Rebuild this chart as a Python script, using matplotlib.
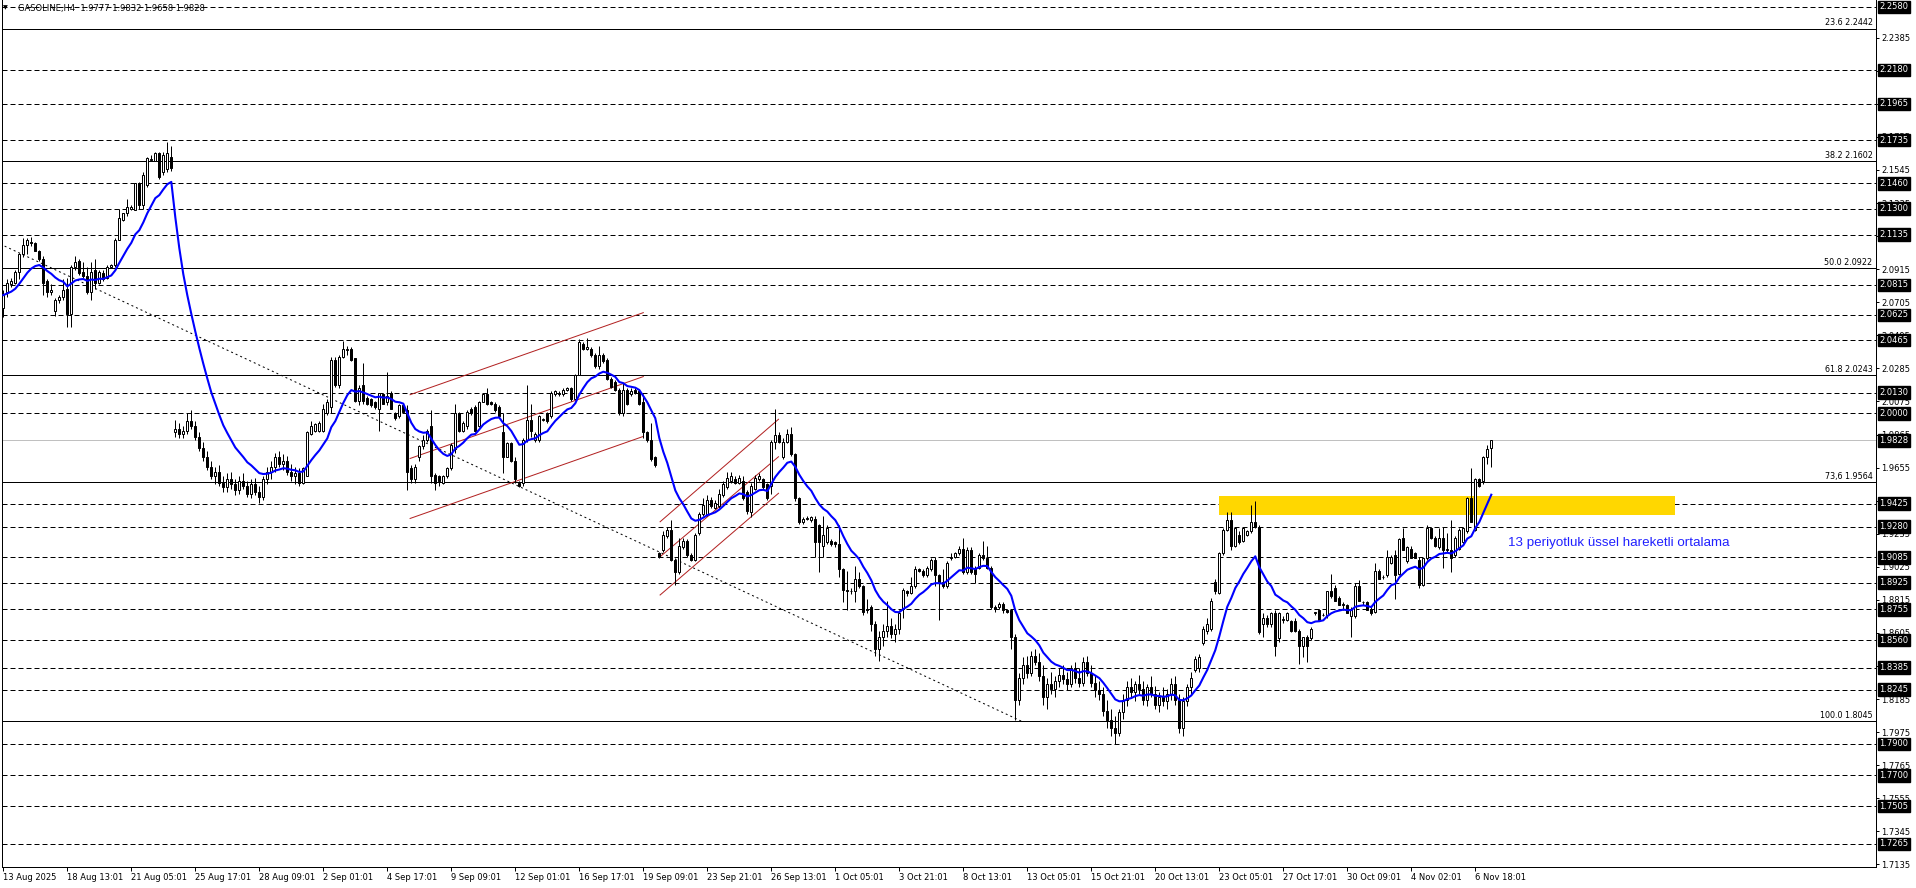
import numpy as np
import pandas as pd
import matplotlib
matplotlib.use("Agg")
import matplotlib.pyplot as plt
from matplotlib.patches import Rectangle

# ---------------- data (H4 candles) ----------------
open_ = [
    2.067, 2.077, 2.082, 2.083, 2.090, 2.101, 2.107, 2.109, 2.108, 2.103,
    2.098, 2.084, 2.077, 2.065, 2.072, 2.074, 2.079, 2.063, 2.093, 2.097,
    2.090, 2.087, 2.077, 2.091, 2.083, 2.089, 2.086, 2.093, 2.094, 2.110,
    2.123, 2.127, 2.130, 2.129, 2.146, 2.132, 2.145, 2.161, 2.160, 2.165,
    2.153, 2.155, 2.163, 1.988, 1.990, 1.987, 1.989, 1.995, 1.992, 1.985,
    1.978, 1.972, 1.966, 1.960, 1.963, 1.956, 1.953, 1.958, 1.955, 1.951,
    1.957, 1.954, 1.949, 1.955, 1.950, 1.947, 1.958, 1.963, 1.966, 1.972,
    1.968, 1.970, 1.963, 1.960, 1.962, 1.956, 1.960, 1.987, 1.989, 1.989,
    1.989, 2.000, 2.004, 2.034, 2.018, 2.036, 2.040, 2.041, 2.035, 2.008,
    2.018, 2.010, 2.009, 2.007, 2.003, 2.012, 2.007, 2.013, 2.000, 1.998,
    2.005, 2.002, 1.965, 1.958, 1.972, 1.979, 1.983, 1.992, 1.961, 1.960,
    1.956, 1.960, 1.965, 1.977, 2.000, 1.989, 1.992, 2.003, 2.004, 1.992,
    2.007, 2.012, 2.007, 2.006, 2.004, 1.988, 1.972, 1.981, 1.970, 1.956,
    1.956, 1.983, 1.996, 1.983, 1.983, 1.996, 2.000, 1.998, 2.012, 2.012,
    2.012, 2.015, 2.016, 2.009, 2.024, 2.044, 2.041, 2.041, 2.037, 2.030,
    2.037, 2.034, 2.022, 2.020, 2.015, 2.000, 2.015, 2.012, 2.015, 2.014,
    2.007, 1.988, 1.983, 1.972, 1.911, 1.913, 1.922, 1.926, 1.907, 1.899,
    1.915, 1.919, 1.910, 1.907, 1.924, 1.936, 1.936, 1.945, 1.940, 1.941,
    1.948, 1.953, 1.957, 1.958, 1.956, 1.957, 1.950, 1.937, 1.952, 1.958,
    1.958, 1.955, 1.954, 1.982, 1.986, 1.972, 1.982, 1.987, 1.974, 1.946,
    1.931, 1.933, 1.932, 1.933, 1.929, 1.916, 1.918, 1.919, 1.918, 1.917,
    1.901, 1.888, 1.887, 1.887, 1.895, 1.890, 1.876, 1.877, 1.866, 1.850,
    1.858, 1.862, 1.865, 1.860, 1.863, 1.876, 1.887, 1.886, 1.890, 1.901,
    1.900, 1.897, 1.901, 1.907, 1.897, 1.893, 1.890, 1.908, 1.909, 1.911,
    1.914, 1.899, 1.913, 1.902, 1.902, 1.910, 1.908, 1.902, 1.877, 1.877,
    1.879, 1.875, 1.875, 1.858, 1.818, 1.832, 1.840, 1.835, 1.846, 1.842,
    1.833, 1.820, 1.828, 1.825, 1.830, 1.834, 1.831, 1.828, 1.838, 1.832,
    1.829, 1.842, 1.835, 1.829, 1.824, 1.822, 1.811, 1.805, 1.800, 1.797,
    1.810, 1.818, 1.826, 1.823, 1.828, 1.825, 1.818, 1.826, 1.822, 1.815,
    1.820, 1.817, 1.822, 1.828, 1.818, 1.800, 1.817, 1.826, 1.837, 1.838,
    1.854, 1.862, 1.863, 1.893, 1.886, 1.911, 1.926, 1.932, 1.916, 1.923,
    1.919, 1.923, 1.925, 1.931, 1.928, 1.866, 1.870, 1.866, 1.873, 1.857,
    1.869, 1.869, 1.868, 1.868, 1.862, 1.852, 1.858, 1.857, 1.873, 1.875,
    1.872, 1.872, 1.887, 1.889, 1.883, 1.878, 1.878, 1.871, 1.871, 1.890,
    1.880, 1.880, 1.876, 1.874, 1.900, 1.896, 1.897, 1.905, 1.910, 1.898,
    1.921, 1.906, 1.914, 1.911, 1.907, 1.891, 1.908, 1.927, 1.921, 1.915,
    1.921, 1.913, 1.913, 1.910, 1.914, 1.918, 1.925, 1.946, 1.926, 1.958,
    1.957, 1.972, 1.9777,
]
high = [
    2.078, 2.085, 2.086, 2.091, 2.102, 2.111, 2.111, 2.112, 2.109, 2.104,
    2.100, 2.085, 2.082, 2.073, 2.075, 2.085, 2.086, 2.094, 2.100, 2.098,
    2.096, 2.093, 2.096, 2.098, 2.091, 2.091, 2.094, 2.095, 2.111, 2.130,
    2.127, 2.136, 2.132, 2.146, 2.147, 2.153, 2.163, 2.164, 2.166, 2.166,
    2.166, 2.172, 2.170, 1.996, 1.994, 1.992, 2.000, 2.002, 1.995, 1.988,
    1.982, 1.976, 1.970, 1.966, 1.967, 1.960, 1.962, 1.963, 1.958, 1.960,
    1.962, 1.957, 1.958, 1.959, 1.954, 1.960, 1.966, 1.970, 1.975, 1.976,
    1.974, 1.973, 1.968, 1.966, 1.965, 1.966, 1.989, 1.995, 1.994, 1.995,
    2.006, 2.009, 2.036, 2.036, 2.037, 2.046, 2.043, 2.042, 2.035, 2.018,
    2.032, 2.011, 2.010, 2.008, 2.013, 2.013, 2.026, 2.014, 2.001, 2.006,
    2.006, 2.005, 1.967, 1.968, 1.980, 1.986, 1.990, 2.002, 1.962, 1.961,
    1.961, 1.966, 1.981, 2.006, 2.001, 1.995, 2.002, 2.004, 2.005, 2.008,
    2.013, 2.016, 2.008, 2.007, 2.005, 2.000, 1.982, 1.982, 1.972, 1.957,
    1.984, 2.018, 2.006, 1.988, 1.999, 1.997, 2.001, 2.014, 2.015, 2.014,
    2.016, 2.017, 2.017, 2.025, 2.047, 2.045, 2.048, 2.042, 2.038, 2.043,
    2.038, 2.035, 2.023, 2.021, 2.016, 2.019, 2.016, 2.016, 2.016, 2.015,
    2.012, 1.989, 1.994, 1.973, 1.912, 1.925, 1.928, 1.932, 1.908, 1.921,
    1.921, 1.920, 1.911, 1.924, 1.937, 1.946, 1.948, 1.947, 1.945, 1.952,
    1.957, 1.963, 1.963, 1.960, 1.961, 1.960, 1.951, 1.956, 1.961, 1.962,
    1.959, 1.956, 1.983, 2.003, 1.988, 1.984, 1.990, 1.991, 1.975, 1.947,
    1.934, 1.935, 1.935, 1.935, 1.930, 1.935, 1.929, 1.920, 1.919, 1.929,
    1.902, 1.900, 1.889, 1.903, 1.899, 1.891, 1.882, 1.878, 1.868, 1.862,
    1.866, 1.881, 1.870, 1.866, 1.875, 1.889, 1.888, 1.896, 1.903, 1.902,
    1.901, 1.903, 1.908, 1.909, 1.898, 1.901, 1.906, 1.911, 1.912, 1.916,
    1.921, 1.915, 1.915, 1.903, 1.911, 1.919, 1.916, 1.903, 1.878, 1.880,
    1.880, 1.876, 1.876, 1.860, 1.835, 1.845, 1.846, 1.849, 1.850, 1.848,
    1.840, 1.832, 1.836, 1.833, 1.838, 1.840, 1.836, 1.840, 1.842, 1.838,
    1.845, 1.846, 1.840, 1.834, 1.830, 1.826, 1.818, 1.812, 1.808, 1.812,
    1.822, 1.830, 1.832, 1.830, 1.834, 1.830, 1.828, 1.833, 1.827, 1.823,
    1.826, 1.825, 1.832, 1.833, 1.822, 1.820, 1.828, 1.836, 1.846, 1.847,
    1.865, 1.870, 1.883, 1.895, 1.912, 1.927, 1.937, 1.937, 1.928, 1.925,
    1.928, 1.926, 1.942, 1.944, 1.929, 1.873, 1.872, 1.874, 1.875, 1.874,
    1.871, 1.874, 1.869, 1.870, 1.863, 1.858, 1.859, 1.864, 1.874, 1.876,
    1.873, 1.887, 1.898, 1.891, 1.884, 1.880, 1.879, 1.877, 1.892, 1.894,
    1.881, 1.881, 1.877, 1.905, 1.901, 1.897, 1.913, 1.910, 1.913, 1.921,
    1.927, 1.916, 1.916, 1.912, 1.909, 1.908, 1.929, 1.928, 1.922, 1.927,
    1.928, 1.924, 1.932, 1.922, 1.927, 1.928, 1.947, 1.965, 1.959, 1.959,
    1.973, 1.980, 1.9832,
]
low = [
    2.061, 2.074, 2.080, 2.082, 2.085, 2.099, 2.101, 2.106, 2.103, 2.097,
    2.075, 2.074, 2.075, 2.062, 2.070, 2.072, 2.055, 2.055, 2.091, 2.088,
    2.086, 2.076, 2.072, 2.079, 2.082, 2.084, 2.085, 2.092, 2.093, 2.110,
    2.122, 2.125, 2.129, 2.129, 2.130, 2.130, 2.144, 2.160, 2.160, 2.149,
    2.151, 2.153, 2.154, 1.985, 1.984, 1.984, 1.987, 1.990, 1.983, 1.976,
    1.970, 1.964, 1.958, 1.955, 1.954, 1.950, 1.950, 1.952, 1.948, 1.949,
    1.952, 1.947, 1.946, 1.948, 1.943, 1.945, 1.955, 1.958, 1.963, 1.966,
    1.964, 1.961, 1.957, 1.955, 1.954, 1.955, 1.960, 1.986, 1.988, 1.988,
    1.988, 1.999, 2.000, 2.017, 2.016, 2.035, 2.037, 2.033, 2.007, 2.005,
    2.006, 2.005, 2.004, 2.003, 1.989, 2.006, 2.005, 2.003, 1.996, 1.997,
    2.000, 1.951, 1.956, 1.956, 1.970, 1.977, 1.982, 1.956, 1.951, 1.954,
    1.955, 1.959, 1.964, 1.975, 1.988, 1.988, 1.990, 1.999, 1.988, 1.991,
    2.007, 2.005, 2.005, 2.001, 1.997, 1.962, 1.972, 1.969, 1.956, 1.953,
    1.954, 1.982, 1.985, 1.982, 1.982, 1.995, 1.994, 1.997, 2.011, 2.011,
    2.011, 2.014, 2.008, 2.009, 2.024, 2.040, 2.040, 2.036, 2.029, 2.028,
    2.032, 2.021, 2.016, 2.014, 1.999, 1.998, 2.005, 2.011, 2.012, 2.005,
    1.984, 1.982, 1.970, 1.966, 1.908, 1.912, 1.921, 1.906, 1.891, 1.898,
    1.914, 1.909, 1.906, 1.906, 1.923, 1.935, 1.935, 1.940, 1.939, 1.940,
    1.947, 1.952, 1.956, 1.955, 1.955, 1.945, 1.936, 1.934, 1.951, 1.957,
    1.952, 1.945, 1.949, 1.977, 1.981, 1.971, 1.981, 1.973, 1.944, 1.930,
    1.930, 1.932, 1.931, 1.909, 1.899, 1.909, 1.917, 1.916, 1.915, 1.896,
    1.880, 1.875, 1.885, 1.880, 1.889, 1.872, 1.873, 1.862, 1.846, 1.843,
    1.852, 1.858, 1.857, 1.855, 1.860, 1.870, 1.884, 1.885, 1.889, 1.899,
    1.896, 1.896, 1.900, 1.890, 1.869, 1.889, 1.889, 1.907, 1.908, 1.910,
    1.898, 1.898, 1.898, 1.892, 1.901, 1.907, 1.901, 1.876, 1.874, 1.876,
    1.873, 1.873, 1.850, 1.805, 1.815, 1.828, 1.832, 1.833, 1.840, 1.830,
    1.815, 1.812, 1.822, 1.820, 1.826, 1.828, 1.824, 1.826, 1.829, 1.826,
    1.827, 1.833, 1.826, 1.820, 1.818, 1.808, 1.800, 1.795, 1.790, 1.795,
    1.806, 1.814, 1.820, 1.817, 1.822, 1.815, 1.814, 1.820, 1.812, 1.810,
    1.814, 1.812, 1.818, 1.815, 1.797, 1.795, 1.814, 1.822, 1.836, 1.836,
    1.853, 1.860, 1.862, 1.885, 1.885, 1.910, 1.925, 1.913, 1.915, 1.917,
    1.918, 1.922, 1.924, 1.927, 1.860, 1.858, 1.864, 1.864, 1.846, 1.855,
    1.867, 1.868, 1.861, 1.861, 1.841, 1.845, 1.842, 1.856, 1.872, 1.868,
    1.871, 1.870, 1.883, 1.881, 1.878, 1.875, 1.873, 1.858, 1.870, 1.881,
    1.878, 1.875, 1.872, 1.873, 1.895, 1.895, 1.896, 1.904, 1.882, 1.897,
    1.913, 1.905, 1.908, 1.908, 1.889, 1.890, 1.907, 1.920, 1.915, 1.914,
    1.902, 1.912, 1.899, 1.909, 1.913, 1.917, 1.924, 1.931, 1.925, 1.953,
    1.955, 1.968, 1.9658,
]
close = [
    2.075, 2.083, 2.084, 2.090, 2.101, 2.107, 2.110, 2.108, 2.103, 2.098,
    2.083, 2.077, 2.078, 2.072, 2.074, 2.078, 2.063, 2.093, 2.096, 2.089,
    2.087, 2.077, 2.090, 2.083, 2.090, 2.085, 2.093, 2.094, 2.110, 2.124,
    2.127, 2.131, 2.131, 2.146, 2.132, 2.151, 2.162, 2.161, 2.165, 2.150,
    2.164, 2.165, 2.156, 1.990, 1.987, 1.989, 1.995, 1.992, 1.985, 1.978,
    1.972, 1.966, 1.960, 1.963, 1.956, 1.953, 1.958, 1.955, 1.951, 1.957,
    1.954, 1.949, 1.955, 1.950, 1.947, 1.958, 1.963, 1.966, 1.972, 1.968,
    1.970, 1.963, 1.960, 1.962, 1.956, 1.965, 1.988, 1.992, 1.993, 1.994,
    2.003, 2.007, 2.034, 2.018, 2.036, 2.041, 2.041, 2.034, 2.008, 2.016,
    2.008, 2.006, 2.005, 2.004, 2.013, 2.006, 2.011, 2.003, 1.997, 2.005,
    2.001, 1.963, 1.958, 1.966, 1.979, 1.983, 1.989, 1.960, 1.956, 1.957,
    1.960, 1.965, 1.980, 2.000, 1.989, 1.994, 2.001, 2.000, 1.989, 2.007,
    2.012, 2.006, 2.006, 2.002, 1.998, 1.972, 1.981, 1.970, 1.958, 1.954,
    1.983, 1.996, 1.989, 1.987, 1.998, 1.996, 1.995, 2.013, 2.014, 2.013,
    2.015, 2.016, 2.009, 2.024, 2.045, 2.041, 2.042, 2.037, 2.030, 2.037,
    2.033, 2.022, 2.017, 2.015, 2.000, 2.015, 2.006, 2.014, 2.013, 2.006,
    1.988, 1.983, 1.971, 1.967, 1.909, 1.923, 1.926, 1.907, 1.899, 1.916,
    1.919, 1.910, 1.907, 1.923, 1.936, 1.942, 1.945, 1.941, 1.943, 1.949,
    1.955, 1.959, 1.960, 1.956, 1.959, 1.946, 1.938, 1.954, 1.959, 1.960,
    1.953, 1.946, 1.982, 1.986, 1.982, 1.982, 1.987, 1.974, 1.946, 1.931,
    1.933, 1.933, 1.934, 1.918, 1.918, 1.923, 1.927, 1.917, 1.917, 1.901,
    1.888, 1.887, 1.887, 1.895, 1.890, 1.874, 1.875, 1.866, 1.850, 1.858,
    1.862, 1.865, 1.860, 1.863, 1.873, 1.888, 1.886, 1.890, 1.901, 1.900,
    1.897, 1.902, 1.907, 1.897, 1.892, 1.890, 1.905, 1.909, 1.911, 1.914,
    1.899, 1.913, 1.899, 1.898, 1.910, 1.908, 1.902, 1.877, 1.876, 1.879,
    1.875, 1.874, 1.858, 1.818, 1.832, 1.840, 1.835, 1.846, 1.842, 1.833,
    1.820, 1.828, 1.825, 1.830, 1.834, 1.831, 1.828, 1.838, 1.832, 1.829,
    1.842, 1.835, 1.829, 1.824, 1.822, 1.811, 1.805, 1.800, 1.797, 1.810,
    1.818, 1.826, 1.823, 1.828, 1.825, 1.818, 1.826, 1.822, 1.815, 1.820,
    1.817, 1.822, 1.828, 1.818, 1.800, 1.817, 1.826, 1.832, 1.844, 1.845,
    1.863, 1.866, 1.881, 1.887, 1.911, 1.926, 1.932, 1.916, 1.927, 1.918,
    1.927, 1.925, 1.931, 1.928, 1.861, 1.870, 1.866, 1.873, 1.852, 1.873,
    1.869, 1.873, 1.862, 1.862, 1.852, 1.858, 1.852, 1.863, 1.874, 1.869,
    1.872, 1.887, 1.884, 1.881, 1.878, 1.879, 1.873, 1.875, 1.890, 1.881,
    1.880, 1.875, 1.873, 1.900, 1.895, 1.896, 1.909, 1.909, 1.897, 1.920,
    1.913, 1.915, 1.908, 1.908, 1.891, 1.908, 1.927, 1.921, 1.916, 1.921,
    1.913, 1.914, 1.908, 1.921, 1.926, 1.927, 1.946, 1.931, 1.958, 1.954,
    1.972, 1.977, 1.9828,
]

date_labels = [
    "13 Aug 2025", "18 Aug 13:01", "21 Aug 05:01", "25 Aug 17:01", "28 Aug 09:01",
    "2 Sep 01:01", "4 Sep 17:01", "9 Sep 09:01", "12 Sep 01:01", "16 Sep 17:01",
    "19 Sep 09:01", "23 Sep 21:01", "26 Sep 13:01", "1 Oct 05:01", "3 Oct 21:01",
    "8 Oct 13:01", "13 Oct 05:01", "15 Oct 21:01", "20 Oct 13:01", "23 Oct 05:01",
    "27 Oct 17:01", "30 Oct 09:01", "4 Nov 02:01", "6 Nov 18:01",
]
label_every = 16

price_ticks = [
    2.2385, 2.2175, 2.1965, 2.1755, 2.1545, 2.1335, 2.1125, 2.0915, 2.0705,
    2.0495, 2.0285, 2.0075, 1.9865, 1.9655, 1.9445, 1.9235, 1.9025, 1.8815,
    1.8605, 1.8395, 1.8185, 1.7975, 1.7765, 1.7555, 1.7345, 1.7135,
]
dashed_levels = [
    2.2580, 2.2180, 2.1965, 2.1735, 2.1460, 2.1300, 2.1135, 2.0815, 2.0625,
    2.0465, 2.0130, 2.0000, 1.9425, 1.9280, 1.9085, 1.8925, 1.8755, 1.8560,
    1.8385, 1.8245, 1.7900, 1.7700, 1.7505, 1.7265,
]
fib_ratios = ["23.6", "38.2", "50.0", "61.8", "73,6", "100.0"]
fib_prices = [2.2442, 2.1602, 2.0922, 2.0243, 1.9564, 1.8045]
bid_price = 1.9828

ema_period = 13

trend_bars = [-0.8, 254.5]
trend_prices = [2.1075, 1.8045]
chan1_bars = [101.7, 160.0]
chan1_upper = [2.0118, 2.0639]
chan1_mid = [1.9713, 2.0233]
chan1_lower = [1.9332, 1.9853]
chan2_bars = [164.2, 193.8]
chan2_upper = [1.9311, 1.9962]
chan2_mid = [1.9089, 1.9724]
chan2_lower = [1.8846, 1.9492]
zone_bars = [303.9, 417.9]
zone_prices = [1.9357, 1.9475]
note_text = "13 periyotluk üssel hareketli ortalama"
note_pos = (376.2, 1.9176)
title_text = "GASOLINE,H4  1.9777 1.9832 1.9658 1.9828"

# ---------------- figure ----------------
W, H = 1916, 888
fig = plt.figure(figsize=(W / 100, H / 100), dpi=100)
ax_l, ax_r, ax_t, ax_b = 2, 1876, 0.5, 867
ax = fig.add_axes([ax_l / W, (H - ax_b) / H, (ax_r - ax_l) / W, (ax_b - ax_t) / H])
ax.set_facecolor("white")

px_per_bar = 4.0
x0_px = 3.3
ax.set_xlim((ax_l - x0_px) / px_per_bar, (ax_r - x0_px) / px_per_bar)
ppu = 1574.7
ref_p, ref_y = 2.2580, 7.0
ax.set_ylim(ref_p - (ax_b - ref_y) / ppu, ref_p + (ref_y - ax_t) / ppu)

LW = 0.72  # one pixel

# horizontal levels
for lv in dashed_levels:
    ax.axhline(lv, color="black", lw=LW, ls=(0, (5, 3)), zorder=1)
for r, p in zip(fib_ratios, fib_prices):
    ax.axhline(p, color="black", lw=LW, zorder=1)
    ax.annotate(f"{r} {p:.4f}", xy=(1.0, p), xycoords=("axes fraction", "data"),
                xytext=(-2.5, 1.0), textcoords="offset points",
                ha="right", va="bottom", fontsize=5.8, color="black", zorder=6)
ax.axhline(bid_price, color="#c0c0c0", lw=LW, zorder=1)

# yellow zone
ax.add_patch(Rectangle((zone_bars[0], zone_prices[0]), zone_bars[1] - zone_bars[0],
                       zone_prices[1] - zone_prices[0], facecolor="#ffd700",
                       edgecolor="none", zorder=1.5))

# trend line and channels
ax.plot(trend_bars, trend_prices, color="black", lw=LW, ls=(0, (2, 3)), zorder=2)
for ys in (chan1_upper, chan1_mid, chan1_lower):
    ax.plot(chan1_bars, ys, color="#b22222", lw=LW, zorder=2)
for ys in (chan2_upper, chan2_mid, chan2_lower):
    ax.plot(chan2_bars, ys, color="#b22222", lw=LW, zorder=2)

# candles
n = min(len(open_), len(high), len(low), len(close))
o = np.array(open_[:n]); h = np.array(high[:n]); l = np.array(low[:n]); c = np.array(close[:n])
x = np.arange(n)
ax.vlines(x, l, h, color="black", lw=LW, zorder=3)
up = c >= o
bot = np.minimum(o, c)
bh = np.maximum(np.abs(c - o), 0.0002)
ax.bar(x[up], bh[up], bottom=bot[up], width=0.5, facecolor="white",
       edgecolor="black", linewidth=LW, zorder=4)
ax.bar(x[~up], bh[~up], bottom=bot[~up], width=0.5, facecolor="black",
       edgecolor="black", linewidth=LW, zorder=4)

# EMA
ema = pd.Series(c).ewm(span=ema_period, adjust=False).mean()
ax.plot(x, ema.values, color="#0000ff", lw=1.5, zorder=5)

ax.text(note_pos[0], note_pos[1], note_text, fontsize=9.6, color="#2020ff",
        family="Liberation Sans", ha="left", va="center", zorder=6)

# axes styling
for s in ("left", "right", "bottom"):
    ax.spines[s].set_linewidth(LW)
    ax.spines[s].set_color("black")
ax.spines["top"].set_visible(False)

ax.yaxis.tick_right()
ax.set_yticks(price_ticks)
ax.set_yticklabels([f"{t:.4f}" for t in price_ticks])
ax.tick_params(axis="y", direction="out", length=2.4, width=LW, labelsize=6,
               pad=1.2, colors="black")

tick_pos = [label_every * k for k in range(len(date_labels))]
ax.set_xticks(tick_pos)
ax.set_xticklabels(date_labels)
ax.tick_params(axis="x", direction="out", length=2.8, width=LW, labelsize=6, pad=1.5)
for tl in ax.get_xticklabels():
    tl.set_horizontalalignment("left")

# black price boxes on the right scale
for lv in dashed_levels + [bid_price]:
    ax.annotate(f"{lv:.4f}", xy=(1.0, lv), xycoords=("axes fraction", "data"),
                xytext=(2.4, 0), textcoords="offset points", ha="left", va="center",
                fontsize=6, color="white", annotation_clip=False, zorder=10,
                bbox=dict(boxstyle="square,pad=0.22", facecolor="black", edgecolor="black"))

# title
fig.text(3 / W, 1 - 8 / H, "\u25bc", fontsize=4.5, va="center", ha="left", color="black")
fig.text(18 / W, 1 - 8 / H, title_text, fontsize=6, va="center", ha="left", color="black")

fig.savefig("out.png", dpi=100, facecolor="white")
